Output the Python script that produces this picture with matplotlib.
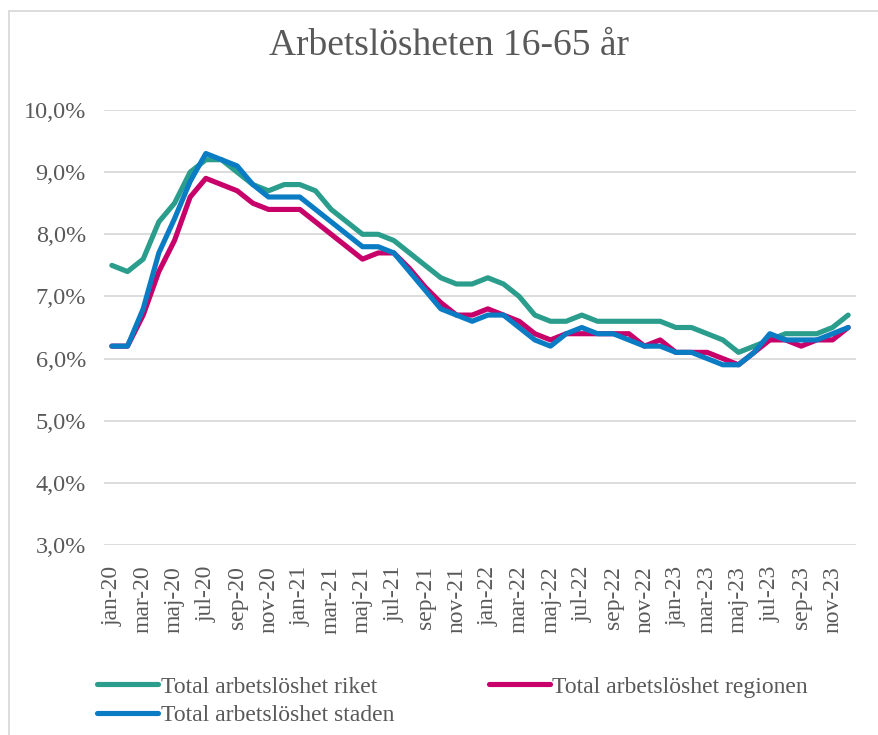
import matplotlib.pyplot as plt
from matplotlib.patches import Rectangle
from matplotlib.ticker import FuncFormatter

plt.rcParams['font.family'] = ['Liberation Serif', 'DejaVu Serif']

months = ['jan', 'feb', 'mar', 'apr', 'maj', 'jun', 'jul', 'aug', 'sep', 'okt', 'nov', 'dec']
labels = [m + '-' + y for y in ['20', '21', '22', '23'] for m in months]

riket = [7.5, 7.4, 7.6, 8.2, 8.5, 9.0, 9.2, 9.2, 9.0, 8.8, 8.7, 8.8,
         8.8, 8.7, 8.4, 8.2, 8.0, 8.0, 7.9, 7.7, 7.5, 7.3, 7.2, 7.2,
         7.3, 7.2, 7.0, 6.7, 6.6, 6.6, 6.7, 6.6, 6.6, 6.6, 6.6, 6.6,
         6.5, 6.5, 6.4, 6.3, 6.1, 6.2, 6.3, 6.4, 6.4, 6.4, 6.5, 6.7]
regionen = [6.2, 6.2, 6.7, 7.4, 7.9, 8.6, 8.9, 8.8, 8.7, 8.5, 8.4, 8.4,
            8.4, 8.2, 8.0, 7.8, 7.6, 7.7, 7.7, 7.45, 7.15, 6.9, 6.7, 6.7,
            6.8, 6.7, 6.6, 6.4, 6.3, 6.4, 6.4, 6.4, 6.4, 6.4, 6.2, 6.3,
            6.1, 6.1, 6.1, 6.0, 5.9, 6.1, 6.3, 6.3, 6.2, 6.3, 6.3, 6.5]
staden = [6.2, 6.2, 6.8, 7.7, 8.25, 8.85, 9.3, 9.2, 9.1, 8.8, 8.6, 8.6,
          8.6, 8.4, 8.2, 8.0, 7.8, 7.8, 7.7, 7.4, 7.1, 6.8, 6.7, 6.6,
          6.7, 6.7, 6.5, 6.3, 6.2, 6.4, 6.5, 6.4, 6.4, 6.3, 6.2, 6.2,
          6.1, 6.1, 6.0, 5.9, 5.9, 6.1, 6.4, 6.3, 6.3, 6.3, 6.4, 6.5]

grey = '#595959'
fig = plt.figure(figsize=(8.79, 7.35), dpi=100)
ax = fig.add_axes([104 / 879, 1 - 545 / 735, 752 / 879, 435 / 735])

x = list(range(len(labels)))
ax.plot(x, riket, color='#2a9d8c', lw=3.7, label='Total arbetslöshet riket', solid_capstyle='round')
ax.plot(x, regionen, color='#c8006a', lw=3.7, label='Total arbetslöshet regionen', solid_capstyle='round')
ax.plot(x, staden, color='#0a7cc4', lw=3.7, label='Total arbetslöshet staden', solid_capstyle='round')

ax.set_xlim(-0.5, len(labels) - 0.5)
ax.set_ylim(3, 10)
ax.set_yticks(range(3, 11))
ax.yaxis.set_major_formatter(FuncFormatter(lambda v, p: f'{v:.1f}%'.replace('.', ',')))
ax.set_xticks(x[::2])
ax.set_xticklabels(labels[::2], rotation=90)
ax.tick_params(axis='both', length=0, labelsize=17, labelcolor=grey)
ax.tick_params(axis='y', pad=13, labelsize=17.5)
ax.tick_params(axis='x', pad=15)
ax.grid(axis='y', color='#d9d9d9', lw=1.3)
ax.set_axisbelow(True)
for s in ax.spines.values():
    s.set_visible(False)

fig.text(0.511, 1 - 46 / 735, 'Arbetslösheten 16-65 år', ha='center', va='center',
         fontsize=27, color=grey)

h, l = ax.get_legend_handles_labels()
h = [h[0], h[2], h[1]]
l = [l[0], l[2], l[1]]
fig.legend(h, l, loc='upper left', bbox_to_anchor=(97 / 879, 1 - 676 / 735), ncol=2,
           frameon=False, fontsize=17, labelcolor=grey, handlelength=2.6,
           handletextpad=0.1, columnspacing=4.0, borderpad=0, borderaxespad=0,
           labelspacing=0.3)

fig.patches.append(Rectangle((9 / 879, -0.05), 1.2, 1 - 11 / 735 + 0.05, transform=fig.transFigure,
                             fill=False, edgecolor='#d9d9d9', lw=1.3))

fig.savefig('out.png', dpi=100)
